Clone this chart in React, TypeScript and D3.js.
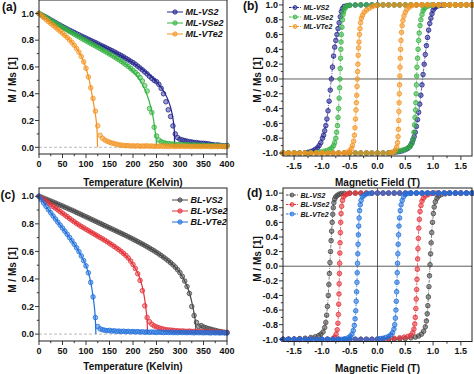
import React from "react";
import * as d3 from "d3";

type Pt = [number, number];

const FONT = "'Liberation Sans', Arial, Helvetica, sans-serif";

// ---------- temperature sweeps (panels a, c) ----------
const temps = [
  0, 5, 10, 15, 20, 25, 30, 35, 40, 45, 50, 55, 60, 65, 70, 75, 80, 85, 90, 95,
  100, 105, 110, 115, 120, 125, 130, 135, 140, 145, 150, 155, 160, 165, 170, 175, 180, 185, 190, 195,
  200, 205, 210, 215, 220, 225, 230, 235, 240, 245, 250, 255, 260, 265, 270, 275, 280, 285, 290, 295,
  300, 305, 310, 315, 320, 325, 330, 335, 340, 345, 350, 355, 360, 365, 370, 375, 380, 385, 390, 395, 400,
];

const mlVS2 = [
  1.0, 0.99, 0.98, 0.972, 0.962, 0.951, 0.942, 0.931, 0.921, 0.912, 0.902, 0.893, 0.883, 0.874, 0.866, 0.857, 0.848, 0.84, 0.831, 0.823,
  0.815, 0.806, 0.798, 0.79, 0.782, 0.773, 0.764, 0.756, 0.748, 0.739, 0.73, 0.722, 0.713, 0.704, 0.694, 0.685, 0.675, 0.664, 0.654, 0.643,
  0.632, 0.62, 0.606, 0.592, 0.578, 0.563, 0.548, 0.53, 0.515, 0.5, 0.49, 0.47, 0.44, 0.4, 0.34, 0.28, 0.23, 0.16, 0.1, 0.072,
  0.06, 0.055, 0.05, 0.046, 0.042, 0.04, 0.036, 0.035, 0.032, 0.03, 0.03, 0.028, 0.026, 0.022, 0.02, 0.016, 0.018, 0.015, 0.012, 0.01, 0.014,
];
const mlVSe2 = [
  1.0, 0.99, 0.979, 0.969, 0.958, 0.948, 0.937, 0.927, 0.917, 0.906, 0.896, 0.886, 0.876, 0.865, 0.855, 0.845, 0.835, 0.825, 0.815, 0.805,
  0.795, 0.786, 0.776, 0.766, 0.757, 0.747, 0.737, 0.727, 0.717, 0.707, 0.697, 0.687, 0.676, 0.665, 0.654, 0.642, 0.63, 0.617, 0.603, 0.59,
  0.575, 0.56, 0.543, 0.52, 0.495, 0.46, 0.42, 0.29, 0.26, 0.15, 0.085, 0.055, 0.042, 0.035, 0.03, 0.028, 0.025, 0.024, 0.022, 0.02,
  0.021, 0.019, 0.018, 0.02, 0.017, 0.016, 0.018, 0.015, 0.014, 0.016, 0.013, 0.012, 0.014, 0.011, 0.012, 0.01, 0.011, 0.009, 0.01, 0.008, 0.01,
];
const mlVTe2 = [
  1.0, 0.984, 0.969, 0.954, 0.939, 0.925, 0.911, 0.897, 0.882, 0.867, 0.852, 0.836, 0.82, 0.802, 0.783, 0.762, 0.738, 0.71, 0.678, 0.638,
  0.59, 0.525, 0.445, 0.365, 0.27, 0.16, 0.09, 0.068, 0.055, 0.045, 0.038, 0.032, 0.028, 0.022, 0.018, 0.016, 0.014, 0.012, 0.013, 0.01,
  0.011, 0.009, 0.012, 0.008, 0.01, 0.009, 0.011, 0.008, 0.01, 0.007, 0.009, 0.008, 0.01, 0.007, 0.009, 0.006, 0.008, 0.009, 0.006, 0.008,
  0.007, 0.009, 0.006, 0.008, 0.007, 0.005, 0.008, 0.006, 0.007, 0.005, 0.008, 0.006, 0.007, 0.005, 0.006, 0.008, 0.005, 0.007, 0.006, 0.005, 0.007,
];
const blVS2 = [
  1.0, 0.993, 0.986, 0.979, 0.972, 0.965, 0.958, 0.951, 0.943, 0.936, 0.929, 0.921, 0.914, 0.906, 0.899, 0.891, 0.883, 0.875, 0.867, 0.859,
  0.851, 0.843, 0.835, 0.827, 0.819, 0.811, 0.803, 0.795, 0.787, 0.779, 0.771, 0.763, 0.755, 0.747, 0.739, 0.731, 0.723, 0.715, 0.706, 0.698,
  0.689, 0.68, 0.671, 0.662, 0.653, 0.644, 0.634, 0.624, 0.614, 0.604, 0.593, 0.582, 0.57, 0.558, 0.545, 0.532, 0.518, 0.503, 0.486, 0.467,
  0.445, 0.418, 0.385, 0.345, 0.295, 0.2, 0.135, 0.085, 0.055, 0.062, 0.052, 0.046, 0.04, 0.036, 0.031, 0.027, 0.022, 0.019, 0.015, 0.012, 0.01,
];
const blVSe2 = [
  1.0, 0.988, 0.976, 0.963, 0.951, 0.939, 0.926, 0.914, 0.902, 0.889, 0.877, 0.864, 0.852, 0.839, 0.827, 0.815, 0.803, 0.792, 0.781, 0.771,
  0.761, 0.751, 0.741, 0.731, 0.721, 0.711, 0.701, 0.691, 0.681, 0.67, 0.659, 0.648, 0.636, 0.624, 0.612, 0.599, 0.585, 0.57, 0.552, 0.53,
  0.505, 0.476, 0.438, 0.39, 0.315, 0.205, 0.12, 0.09, 0.072, 0.06, 0.052, 0.046, 0.04, 0.036, 0.032, 0.03, 0.029, 0.027, 0.025, 0.024,
  0.022, 0.023, 0.021, 0.02, 0.022, 0.019, 0.02, 0.018, 0.019, 0.017, 0.018, 0.016, 0.017, 0.015, 0.016, 0.014, 0.015, 0.013, 0.014, 0.012, 0.013,
];
const blVTe2 = [
  1.0, 0.975, 0.951, 0.927, 0.903, 0.88, 0.857, 0.835, 0.813, 0.791, 0.769, 0.747, 0.724, 0.701, 0.677, 0.652, 0.626, 0.598, 0.567, 0.533,
  0.495, 0.445, 0.375, 0.27, 0.12, 0.055, 0.038, 0.032, 0.028, 0.025, 0.027, 0.022, 0.024, 0.02, 0.022, 0.019, 0.021, 0.018, 0.02, 0.017,
  0.019, 0.016, 0.018, 0.015, 0.017, 0.014, 0.016, 0.013, 0.015, 0.014, 0.012, 0.015, 0.013, 0.011, 0.014, 0.012, 0.013, 0.011, 0.012, 0.01,
  0.013, 0.011, 0.012, 0.01, 0.012, 0.011, 0.009, 0.012, 0.01, 0.011, 0.009, 0.011, 0.01, 0.008, 0.011, 0.009, 0.01, 0.008, 0.01, 0.009, 0.008,
];

// fitted curves
const mlVS2Fit: Pt[] = [[0, 1], [50, 0.9], [100, 0.815], [150, 0.73], [200, 0.63], [230, 0.555], [250, 0.49], [265, 0.42], [275, 0.35], [282, 0.27], [286, 0.19], [288, 0.12], [288.5, 0]];
const mlVSe2Fit: Pt[] = [[0, 1], [50, 0.896], [100, 0.795], [150, 0.697], [190, 0.603], [215, 0.5], [229, 0.4], [238, 0.3], [244, 0.2], [247, 0.12], [249.5, 0.05], [250, 0]];
const mlVTe2Fit: Pt[] = [[0, 1], [25, 0.925], [50, 0.852], [75, 0.762], [90, 0.68], [100, 0.59], [107, 0.5], [112, 0.41], [117, 0.31], [121, 0.22], [123, 0.15], [124, 0.08], [124.5, 0]];
const blVS2Fit: Pt[] = [[0, 1], [50, 0.929], [100, 0.851], [150, 0.771], [200, 0.689], [250, 0.593], [280, 0.518], [300, 0.445], [312, 0.37], [320, 0.3], [326, 0.22], [330, 0.15], [333, 0.08], [334, 0]];
const blVSe2Fit: Pt[] = [[0, 1], [40, 0.902], [80, 0.803], [130, 0.701], [176, 0.597], [200, 0.505], [213, 0.42], [220, 0.34], [225, 0.25], [228, 0.17], [230, 0.1], [231, 0]];
const blVTe2Fit: Pt[] = [[0, 1], [20, 0.903], [43, 0.8], [65, 0.701], [85, 0.598], [100, 0.495], [108, 0.41], [113, 0.32], [117, 0.22], [119.5, 0.13], [120.5, 0.06], [121, 0]];

// ---------- hysteresis loops (panels b, d) ----------
const mlVS2Down: Pt[] = [
  [1.7, 1], [1.6, 1], [1.5, 1], [1.4, 1], [1.3, 1], [1.2, 1], [1.1, 1], [1.0, 1], [0.9, 1], [0.8, 1], [0.7, 1], [0.6, 1], [0.5, 1], [0.4, 1], [0.3, 1], [0.2, 1], [0.1, 1], [0, 1], [-0.1, 1], [-0.2, 1], [-0.3, 1], [-0.4, 0.998], [-0.5, 0.995],
  [-0.55, 0.99], [-0.6, 0.98], [-0.63, 0.95], [-0.65, 0.91], [-0.67, 0.84], [-0.69, 0.76], [-0.71, 0.68], [-0.73, 0.6], [-0.75, 0.52], [-0.77, 0.43], [-0.79, 0.31], [-0.81, 0.16], [-0.83, 0], [-0.85, -0.15], [-0.87, -0.3], [-0.89, -0.43], [-0.91, -0.54], [-0.93, -0.63], [-0.95, -0.7], [-0.97, -0.76], [-0.99, -0.8], [-1.02, -0.86], [-1.05, -0.9], [-1.08, -0.93], [-1.12, -0.95], [-1.16, -0.97], [-1.2, -0.98], [-1.25, -0.99],
  [-1.3, -0.995], [-1.4, -1], [-1.5, -1], [-1.6, -1], [-1.7, -1],
];
const mlVS2Up: Pt[] = [
  [-1.7, -1], [-1.6, -1], [-1.5, -1], [-1.4, -1], [-1.3, -1], [-1.2, -1], [-1.1, -1], [-1.0, -1], [-0.9, -1], [-0.8, -1], [-0.7, -1], [-0.6, -1], [-0.5, -1], [-0.4, -1], [-0.3, -1], [-0.2, -1], [-0.1, -1], [0, -1], [0.1, -1], [0.2, -0.998],
  [0.25, -0.995], [0.3, -0.99], [0.35, -0.985], [0.4, -0.98], [0.45, -0.97], [0.5, -0.955], [0.54, -0.94], [0.57, -0.92], [0.6, -0.89], [0.62, -0.86], [0.64, -0.82], [0.66, -0.78], [0.68, -0.72], [0.7, -0.64], [0.72, -0.55], [0.74, -0.45], [0.76, -0.34], [0.78, -0.22], [0.8, -0.08], [0.82, 0.06], [0.84, 0.2], [0.86, 0.33], [0.88, 0.45], [0.9, 0.56], [0.92, 0.66], [0.94, 0.75], [0.96, 0.82], [0.98, 0.88], [1.0, 0.93], [1.03, 0.96], [1.06, 0.98], [1.1, 0.99], [1.15, 0.995],
  [1.2, 1], [1.3, 1], [1.4, 1], [1.5, 1], [1.6, 1], [1.7, 1],
];
const mlVSe2Down: Pt[] = [
  [1.7, 1], [1.6, 1], [1.5, 1], [1.4, 1], [1.3, 1], [1.2, 1], [1.1, 1], [1.0, 1], [0.9, 1], [0.8, 1], [0.7, 1], [0.6, 1], [0.5, 1], [0.4, 1], [0.3, 1], [0.2, 1], [0.1, 1], [0, 1], [-0.1, 1], [-0.2, 1], [-0.3, 1], [-0.4, 1], [-0.5, 0.995],
  [-0.54, 0.99], [-0.57, 0.97], [-0.59, 0.95], [-0.61, 0.91], [-0.62, 0.87], [-0.63, 0.8], [-0.64, 0.7], [-0.65, 0.6], [-0.655, 0.5], [-0.66, 0.4], [-0.665, 0.28], [-0.67, 0.14], [-0.675, 0], [-0.68, -0.12], [-0.69, -0.26], [-0.7, -0.4], [-0.71, -0.52], [-0.72, -0.63], [-0.735, -0.72], [-0.75, -0.8], [-0.77, -0.86], [-0.79, -0.9], [-0.82, -0.93], [-0.86, -0.95], [-0.91, -0.965], [-0.96, -0.975], [-1.02, -0.985], [-1.1, -0.99], [-1.2, -0.995],
  [-1.3, -1], [-1.4, -1], [-1.5, -1], [-1.6, -1], [-1.7, -1],
];
const mlVSe2Up: Pt[] = [
  [-1.7, -1], [-1.6, -1], [-1.5, -1], [-1.4, -1], [-1.3, -1], [-1.2, -1], [-1.1, -1], [-1.0, -1], [-0.9, -1], [-0.8, -1], [-0.7, -1], [-0.6, -1], [-0.5, -1], [-0.4, -1], [-0.3, -1], [-0.2, -1], [-0.1, -1], [0, -1], [0.1, -1], [0.2, -1],
  [0.25, -0.995], [0.3, -0.985], [0.35, -0.978], [0.4, -0.97], [0.45, -0.96], [0.5, -0.95], [0.55, -0.93], [0.59, -0.91], [0.62, -0.87], [0.64, -0.81], [0.655, -0.72], [0.665, -0.62], [0.675, -0.52], [0.685, -0.42], [0.69, -0.32], [0.695, -0.2], [0.7, -0.08], [0.705, 0.04], [0.71, 0.16], [0.72, 0.28], [0.73, 0.4], [0.74, 0.52], [0.75, 0.62], [0.765, 0.72], [0.78, 0.8], [0.8, 0.87], [0.82, 0.92], [0.84, 0.95], [0.87, 0.97], [0.91, 0.985], [0.96, 0.995],
  [1.0, 1], [1.1, 1], [1.2, 1], [1.3, 1], [1.4, 1], [1.5, 1], [1.6, 1], [1.7, 1],
];
const mlVTe2Down: Pt[] = [
  [1.7, 1], [1.6, 1], [1.5, 1], [1.4, 1], [1.3, 1], [1.2, 1], [1.1, 1], [1.0, 1], [0.9, 1], [0.8, 1], [0.7, 1], [0.6, 1], [0.5, 1], [0.4, 1], [0.3, 1], [0.2, 1], [0.1, 1],
  [0, 0.995], [-0.05, 0.99], [-0.1, 0.975], [-0.15, 0.955], [-0.2, 0.93], [-0.24, 0.9], [-0.27, 0.86], [-0.29, 0.82], [-0.305, 0.76], [-0.315, 0.68], [-0.325, 0.6], [-0.333, 0.5], [-0.34, 0.42], [-0.347, 0.32], [-0.353, 0.2], [-0.358, 0.1], [-0.363, 0], [-0.368, -0.1], [-0.374, -0.22], [-0.38, -0.32], [-0.387, -0.42], [-0.395, -0.54], [-0.405, -0.66], [-0.415, -0.76], [-0.43, -0.84], [-0.45, -0.9], [-0.47, -0.94], [-0.5, -0.97], [-0.55, -0.99],
  [-0.6, -1], [-0.7, -1], [-0.8, -1], [-0.9, -1], [-1.0, -1], [-1.1, -1], [-1.2, -1], [-1.3, -1], [-1.4, -1], [-1.5, -1], [-1.6, -1], [-1.7, -1],
];
const mlVTe2Up: Pt[] = [
  [-1.7, -1], [-1.6, -1], [-1.5, -1], [-1.4, -1], [-1.3, -1], [-1.2, -1], [-1.1, -1], [-1.0, -1], [-0.9, -1], [-0.8, -1], [-0.7, -1], [-0.6, -1], [-0.5, -1], [-0.4, -1], [-0.3, -1], [-0.2, -1], [-0.1, -1], [0, -1], [0.1, -1], [0.2, -1],
  [0.25, -0.995], [0.29, -0.985], [0.32, -0.96], [0.345, -0.92], [0.36, -0.86], [0.37, -0.78], [0.376, -0.68], [0.381, -0.56], [0.385, -0.44], [0.389, -0.32], [0.393, -0.2], [0.397, -0.08], [0.401, 0.04], [0.405, 0.16], [0.41, 0.28], [0.416, 0.4], [0.423, 0.52], [0.432, 0.63], [0.443, 0.72], [0.457, 0.79], [0.475, 0.85], [0.5, 0.9], [0.53, 0.94], [0.57, 0.97], [0.62, 0.99],
  [0.7, 1], [0.8, 1], [0.9, 1], [1.0, 1], [1.1, 1], [1.2, 1], [1.3, 1], [1.4, 1], [1.5, 1], [1.6, 1], [1.7, 1],
];

const blVS2Down: Pt[] = [
  [1.7, 1], [1.6, 1], [1.5, 1], [1.4, 1], [1.3, 1], [1.2, 1], [1.1, 1], [1.0, 1], [0.9, 1], [0.8, 1], [0.7, 1], [0.6, 1], [0.5, 1], [0.4, 1], [0.3, 1], [0.2, 1], [0.1, 1], [0, 1], [-0.1, 1], [-0.2, 1], [-0.3, 1], [-0.4, 1], [-0.5, 1], [-0.6, 0.998],
  [-0.65, 0.995], [-0.69, 0.985], [-0.72, 0.97], [-0.75, 0.95], [-0.77, 0.92], [-0.785, 0.87], [-0.795, 0.8], [-0.805, 0.71], [-0.815, 0.6], [-0.825, 0.48], [-0.835, 0.35], [-0.845, 0.2], [-0.855, 0.05], [-0.865, -0.1], [-0.875, -0.25], [-0.885, -0.4], [-0.9, -0.55], [-0.915, -0.67], [-0.93, -0.77], [-0.95, -0.84], [-0.98, -0.9], [-1.02, -0.93], [-1.06, -0.95], [-1.12, -0.965], [-1.2, -0.975], [-1.3, -0.985], [-1.4, -0.99], [-1.5, -0.995],
  [-1.6, -1], [-1.7, -1],
];
const blVS2Up: Pt[] = [
  [-1.7, -1], [-1.6, -1], [-1.5, -1], [-1.4, -1], [-1.3, -1], [-1.2, -1], [-1.1, -1], [-1.0, -1], [-0.9, -1], [-0.8, -1], [-0.7, -1], [-0.6, -1], [-0.5, -1], [-0.4, -1], [-0.3, -1], [-0.2, -1], [-0.1, -1], [0, -1], [0.1, -1], [0.2, -1], [0.3, -0.998],
  [0.4, -0.995], [0.5, -0.99], [0.6, -0.98], [0.68, -0.97], [0.74, -0.955], [0.79, -0.93], [0.83, -0.89], [0.86, -0.83], [0.88, -0.75], [0.895, -0.65], [0.905, -0.54], [0.915, -0.42], [0.925, -0.28], [0.935, -0.13], [0.945, 0.02], [0.955, 0.17], [0.965, 0.32], [0.975, 0.46], [0.99, 0.6], [1.005, 0.72], [1.02, 0.81], [1.04, 0.88], [1.07, 0.93], [1.1, 0.96], [1.15, 0.98], [1.22, 0.99],
  [1.3, 1], [1.4, 1], [1.5, 1], [1.6, 1], [1.7, 1],
];
const blVSe2Down: Pt[] = [
  [1.7, 1], [1.6, 1], [1.5, 1], [1.4, 1], [1.3, 1], [1.2, 1], [1.1, 1], [1.0, 1], [0.9, 1], [0.8, 1], [0.7, 1], [0.6, 1], [0.5, 1], [0.4, 1], [0.3, 1], [0.2, 1], [0.1, 1], [0, 1], [-0.1, 1], [-0.2, 1], [-0.3, 1], [-0.4, 1], [-0.5, 0.998],
  [-0.54, 0.99], [-0.58, 0.975], [-0.61, 0.95], [-0.63, 0.9], [-0.645, 0.82], [-0.655, 0.72], [-0.662, 0.6], [-0.668, 0.46], [-0.673, 0.32], [-0.677, 0.18], [-0.681, 0.04], [-0.685, -0.1], [-0.689, -0.24], [-0.693, -0.38], [-0.698, -0.52], [-0.704, -0.66], [-0.712, -0.78], [-0.725, -0.87], [-0.745, -0.93], [-0.77, -0.97], [-0.8, -0.99],
  [-0.9, -1], [-1.0, -1], [-1.1, -1], [-1.2, -1], [-1.3, -1], [-1.4, -1], [-1.5, -1], [-1.6, -1], [-1.7, -1],
];
const blVSe2Up: Pt[] = [
  [-1.7, -1], [-1.6, -1], [-1.5, -1], [-1.4, -1], [-1.3, -1], [-1.2, -1], [-1.1, -1], [-1.0, -1], [-0.9, -1], [-0.8, -1], [-0.7, -1], [-0.6, -1], [-0.5, -1], [-0.4, -1], [-0.3, -1], [-0.2, -1], [-0.1, -1], [0, -1],
  [0.1, -0.995], [0.2, -0.99], [0.3, -0.985], [0.4, -0.98], [0.48, -0.97], [0.55, -0.96], [0.6, -0.945], [0.635, -0.91], [0.655, -0.86], [0.67, -0.79], [0.68, -0.7], [0.69, -0.58], [0.697, -0.45], [0.704, -0.32], [0.71, -0.18], [0.716, -0.04], [0.722, 0.1], [0.728, 0.24], [0.735, 0.38], [0.743, 0.52], [0.753, 0.64], [0.766, 0.75], [0.782, 0.83], [0.8, 0.89], [0.825, 0.93], [0.86, 0.96], [0.91, 0.98], [0.97, 0.995],
  [1.05, 1], [1.1, 1], [1.2, 1], [1.3, 1], [1.4, 1], [1.5, 1], [1.6, 1], [1.7, 1],
];
const blVTe2Down: Pt[] = [
  [1.7, 1], [1.6, 1], [1.5, 1], [1.4, 1], [1.3, 1], [1.2, 1], [1.1, 1], [1.0, 1], [0.9, 1], [0.8, 1], [0.7, 1], [0.6, 1], [0.5, 1], [0.4, 1], [0.3, 1], [0.2, 1], [0.1, 1], [0, 1], [-0.1, 1],
  [-0.15, 0.995], [-0.2, 0.99], [-0.24, 0.97], [-0.27, 0.95], [-0.295, 0.9], [-0.31, 0.84], [-0.322, 0.76], [-0.331, 0.66], [-0.338, 0.55], [-0.344, 0.43], [-0.35, 0.3], [-0.355, 0.17], [-0.36, 0.04], [-0.365, -0.09], [-0.37, -0.22], [-0.376, -0.35], [-0.383, -0.48], [-0.392, -0.61], [-0.403, -0.72], [-0.417, -0.81], [-0.435, -0.88], [-0.46, -0.93], [-0.49, -0.96], [-0.53, -0.98], [-0.58, -0.995],
  [-0.65, -1], [-0.7, -1], [-0.8, -1], [-0.9, -1], [-1.0, -1], [-1.1, -1], [-1.2, -1], [-1.3, -1], [-1.4, -1], [-1.5, -1], [-1.6, -1], [-1.7, -1],
];
const blVTe2Up: Pt[] = [
  [-1.7, -1], [-1.6, -1], [-1.5, -1], [-1.4, -1], [-1.3, -1], [-1.2, -1], [-1.1, -1], [-1.0, -1], [-0.9, -1], [-0.8, -1], [-0.7, -1], [-0.6, -1], [-0.5, -1], [-0.4, -1], [-0.3, -1], [-0.2, -1], [-0.1, -1],
  [0, -0.995], [0.05, -0.99], [0.1, -0.985], [0.15, -0.975], [0.2, -0.96], [0.24, -0.94], [0.27, -0.91], [0.295, -0.86], [0.31, -0.8], [0.322, -0.71], [0.331, -0.6], [0.338, -0.48], [0.344, -0.35], [0.35, -0.22], [0.355, -0.09], [0.36, 0.04], [0.366, 0.17], [0.372, 0.3], [0.379, 0.43], [0.387, 0.55], [0.397, 0.66], [0.41, 0.76], [0.425, 0.84], [0.445, 0.9], [0.47, 0.95], [0.5, 0.98], [0.55, 0.995],
  [0.6, 1], [0.7, 1], [0.8, 1], [0.9, 1], [1.0, 1], [1.1, 1], [1.2, 1], [1.3, 1], [1.4, 1], [1.5, 1], [1.6, 1], [1.7, 1],
];

// ---------- ticks ----------
const tempTicks = [0, 50, 100, 150, 200, 250, 300, 350, 400];
const tempMinor = [25, 75, 125, 175, 225, 275, 325, 375];
const ratioTicks = [0, 0.2, 0.4, 0.6, 0.8, 1.0];
const ratioMinor = [0.1, 0.3, 0.5, 0.7, 0.9];
const fieldTicks = [-1.5, -1.0, -0.5, 0, 0.5, 1.0, 1.5];
const fieldMinor = [-1.25, -0.75, -0.25, 0.25, 0.75, 1.25];
const loopTicks = [-1.0, -0.8, -0.6, -0.4, -0.2, 0, 0.2, 0.4, 0.6, 0.8, 1.0];
const loopMinor = [-0.9, -0.7, -0.5, -0.3, -0.1, 0.1, 0.3, 0.5, 0.7, 0.9];

const C = {
  navy: "#26268f",
  green: "#35b341",
  orange: "#f39422",
  gray: "#474747",
  red: "#e4323a",
  blue: "#2070dc",
};

type Scale = d3.ScaleLinear<number, number>;

type FrameProps = {
  x: Scale;
  y: Scale;
  xTicks: number[];
  xMinor: number[];
  yTicks: number[];
  yMinor: number[];
  fmtX: (v: number) => string;
  xTitle: string;
  xTitleY: number;
  yTitleX: number;
  yTitleY: number;
  tag: string;
  tagX: number;
  tagY: number;
};

function Frame(p: FrameProps) {
  const [l, r] = p.x.range();
  const [b, t] = p.y.range();
  return (
    <g>
      <g stroke="#222" strokeWidth={0.9}>
        {p.xTicks.map((v) => (
          <line key={"xt" + v} x1={p.x(v)} x2={p.x(v)} y1={b} y2={b + 4} />
        ))}
        {p.xMinor.map((v) => (
          <line key={"xm" + v} x1={p.x(v)} x2={p.x(v)} y1={b} y2={b + 2.2} />
        ))}
        {p.yTicks.map((v) => (
          <line key={"yt" + v} x1={l - 4} x2={l} y1={p.y(v)} y2={p.y(v)} />
        ))}
        {p.yMinor.map((v) => (
          <line key={"ym" + v} x1={l - 2.2} x2={l} y1={p.y(v)} y2={p.y(v)} />
        ))}
      </g>
      <rect x={l} y={t} width={r - l} height={b - t} fill="none" stroke="#222" strokeWidth={1} />
      <g fontSize={9} fontWeight="bold" fill="#111">
        {p.xTicks.map((v) => (
          <text key={"xl" + v} x={p.x(v)} y={b + 12.5} textAnchor="middle">
            {p.fmtX(v)}
          </text>
        ))}
        {p.yTicks.map((v) => (
          <text key={"yl" + v} x={l - 5} y={p.y(v) + 3.2} textAnchor="end">
            {v.toFixed(1)}
          </text>
        ))}
      </g>
      <text x={(l + r) / 2} y={p.xTitleY} textAnchor="middle" fontSize={10} fontWeight="bold" fill="#111">
        {p.xTitle}
      </text>
      <text
        transform={`translate(${p.yTitleX},${p.yTitleY}) rotate(-90)`}
        textAnchor="middle"
        dominantBaseline="central"
        fontSize={10}
        fontWeight="bold"
        fill="#111"
      >
        M / Ms [1]
      </text>
      <text x={p.tagX} y={p.tagY} fontSize={12} fontWeight="bold" fill="#111">
        {p.tag}
      </text>
    </g>
  );
}

type TSeries = { name: string; color: string; values: number[]; fit: Pt[] };
type LSeries = { name: string; color: string; down: Pt[]; up: Pt[] };

type LegendProps = { x: number; y: number; dy: number; w: number; fs: number; dashed: boolean; items: { name: string; color: string }[] };

function Legend({ x, y, dy, w, fs, dashed, items }: LegendProps) {
  return (
    <g>
      {items.map((s, i) => (
        <g key={s.name} transform={`translate(${x},${y + i * dy})`}>
          <line x1={0} x2={w} y1={0} y2={0} stroke={s.color} strokeWidth={1} strokeDasharray={dashed ? "2.5 1.2" : undefined} />
          <circle cx={w / 2} cy={0} r={dashed ? 2 : 2.2} fill={s.color} fillOpacity={0.55} stroke={s.color} strokeWidth={0.8} />
          <text x={w + 2.5} y={fs * 0.36} fontSize={fs} fontWeight="bold" fontStyle="italic" fill="#111">
            {s.name}
          </text>
        </g>
      ))}
    </g>
  );
}

type TempPanelProps = { series: TSeries[]; y: Scale; tag: string; tagX: number; tagY: number; xTitleY: number; yTitleY: number; legX: number; legY: number };

const tempX = d3.scaleLinear().domain([0, 400]).range([39, 227]);

function TempPanel({ series, y, tag, tagX, tagY, xTitleY, yTitleY, legX, legY }: TempPanelProps) {
  const x = tempX;
  const fitLine = d3
    .line<Pt>()
    .x((d) => x(d[0]))
    .y((d) => y(d[1]))
    .curve(d3.curveMonotoneX);
  const [l, r] = x.range();
  return (
    <g>
      <line x1={l} x2={r} y1={y(0)} y2={y(0)} stroke="#aaa" strokeWidth={0.8} strokeDasharray="3 2" />
      {series.map((s) => (
        <g key={s.name}>
          {s.values.map((v, i) => (
            <circle key={i} cx={x(temps[i])} cy={y(v)} r={2.3} fill={s.color} fillOpacity={0.45} stroke={s.color} strokeWidth={0.8} />
          ))}
          <path d={fitLine(s.fit) || ""} fill="none" stroke={s.color} strokeWidth={1.2} />
        </g>
      ))}
      <Frame
        x={x}
        y={y}
        xTicks={tempTicks}
        xMinor={tempMinor}
        yTicks={ratioTicks}
        yMinor={ratioMinor}
        fmtX={(v) => String(v)}
        xTitle="Temperature (Kelvin)"
        xTitleY={xTitleY}
        yTitleX={12}
        yTitleY={yTitleY}
        tag={tag}
        tagX={tagX}
        tagY={tagY}
      />
      <Legend x={legX} y={legY} dy={11} w={16} fs={9} dashed={false} items={series} />
    </g>
  );
}

type LoopPanelProps = { series: LSeries[]; y: Scale; tag: string; tagX: number; tagY: number; xTitleY: number; yTitleY: number; legX: number; legY: number };

const fieldX = d3.scaleLinear().domain([-1.7, 1.7]).range([283, 472]);

function LoopPanel({ series, y, tag, tagX, tagY, xTitleY, yTitleY, legX, legY }: LoopPanelProps) {
  const x = fieldX;
  const line = d3
    .line<Pt>()
    .x((d) => x(d[0]))
    .y((d) => y(d[1]));
  const [l, r] = x.range();
  const [b, t] = y.range();
  return (
    <g>
      <line x1={l} x2={r} y1={y(0)} y2={y(0)} stroke="#333" strokeWidth={0.8} />
      <line x1={x(0)} x2={x(0)} y1={b} y2={t} stroke="#333" strokeWidth={0.8} />
      {series.map((s) => (
        <g key={s.name}>
          {[s.down, s.up].map((br, k) => (
            <g key={k}>
              <path d={line(br) || ""} fill="none" stroke={s.color} strokeWidth={0.7} strokeDasharray="3 1.2 1 1.2" />
              {br.map((d, i) => (
                <circle key={i} cx={x(d[0])} cy={y(d[1])} r={2.3} fill={s.color} fillOpacity={0.55} stroke={s.color} strokeWidth={0.8} />
              ))}
            </g>
          ))}
        </g>
      ))}
      <Frame
        x={x}
        y={y}
        xTicks={fieldTicks}
        xMinor={fieldMinor}
        yTicks={loopTicks}
        yMinor={loopMinor}
        fmtX={(v) => v.toFixed(1)}
        xTitle="Magnetic Field (T)"
        xTitleY={xTitleY}
        yTitleX={257}
        yTitleY={yTitleY}
        tag={tag}
        tagX={tagX}
        tagY={tagY}
      />
      <Legend x={legX} y={legY} dy={9.5} w={12} fs={7} dashed={true} items={series} />
    </g>
  );
}

export default function App() {
  const yA = d3.scaleLinear().domain([-0.05, 1.1]).range([154, 0]);
  const yC = d3.scaleLinear().domain([-0.05, 1.06]).range([341, 188]);
  const yB = d3.scaleLinear().domain([-1.04, 1.08]).range([156, -1]);
  const yD = d3.scaleLinear().domain([-1.03, 1.07]).range([341.5, 188]);

  const mlTemp: TSeries[] = [
    { name: "ML-VS2", color: C.navy, values: mlVS2, fit: mlVS2Fit },
    { name: "ML-VSe2", color: C.green, values: mlVSe2, fit: mlVSe2Fit },
    { name: "ML-VTe2", color: C.orange, values: mlVTe2, fit: mlVTe2Fit },
  ];
  const blTemp: TSeries[] = [
    { name: "BL-VS2", color: C.gray, values: blVS2, fit: blVS2Fit },
    { name: "BL-VSe2", color: C.red, values: blVSe2, fit: blVSe2Fit },
    { name: "BL-VTe2", color: C.blue, values: blVTe2, fit: blVTe2Fit },
  ];
  const mlLoop: LSeries[] = [
    { name: "ML-VS2", color: C.navy, down: mlVS2Down, up: mlVS2Up },
    { name: "ML-VSe2", color: C.green, down: mlVSe2Down, up: mlVSe2Up },
    { name: "ML-VTe2", color: C.orange, down: mlVTe2Down, up: mlVTe2Up },
  ];
  const blLoop: LSeries[] = [
    { name: "BL-VS2", color: C.gray, down: blVS2Down, up: blVS2Up },
    { name: "BL-VSe2", color: C.red, down: blVSe2Down, up: blVSe2Up },
    { name: "BL-VTe2", color: C.blue, down: blVTe2Down, up: blVTe2Up },
  ];

  return (
    <div style={{ position: "absolute", left: 0, top: 0, width: 474, height: 374, background: "#fff" }}>
      <svg width={474} height={374} style={{ display: "block", fontFamily: FONT }}>
        <TempPanel series={mlTemp} y={yA} tag="(a)" tagX={2} tagY={11} xTitleY={186} yTitleY={80} legX={167} legY={12} />
        <LoopPanel series={mlLoop} y={yB} tag="(b)" tagX={243} tagY={9.5} xTitleY={185.5} yTitleY={80} legX={289} legY={7.5} />
        <TempPanel series={blTemp} y={yC} tag="(c)" tagX={0.5} tagY={199} xTitleY={369.5} yTitleY={270} legX={172} legY={200} />
        <LoopPanel series={blLoop} y={yD} tag="(d)" tagX={247} tagY={197} xTitleY={372} yTitleY={259} legX={286} legY={195} />
      </svg>
    </div>
  );
}
